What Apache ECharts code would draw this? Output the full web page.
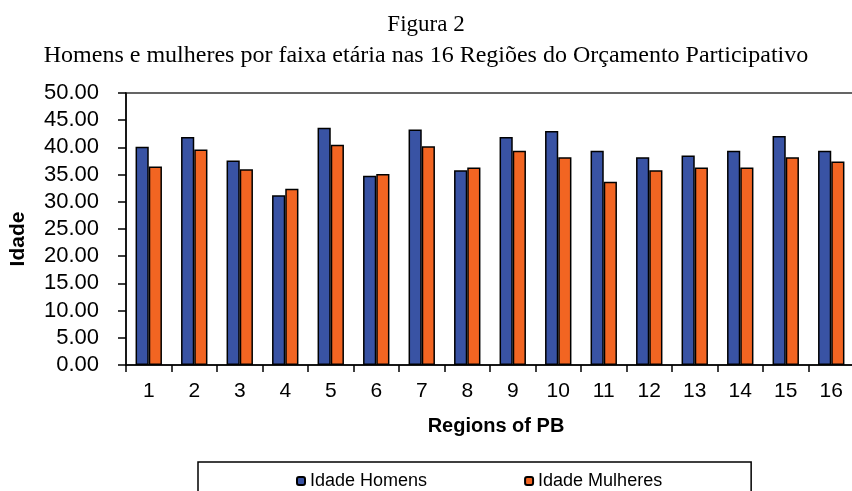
<!DOCTYPE html>
<html>
<head>
    <meta charset="UTF-8">
    <title>Figura 2</title>
    <script src="https://cdn.jsdelivr.net/npm/echarts@6/dist/echarts.min.js"></script>
    <style>
        html, body { margin: 0; padding: 0; background: #fff; }
        #chart { width: 852px; height: 491px; }
    </style>
</head>
<body>
<div id="chart"></div>
<script type="text/javascript">
    var regions = ['1', '2', '3', '4', '5', '6', '7', '8', '9', '10', '11', '12', '13', '14', '15', '16'];
    var idadeHomens = [40.1, 41.9, 37.6, 31.2, 43.6, 34.8, 43.3, 35.8, 41.9, 43.0, 39.4, 38.2, 38.5, 39.4, 42.1, 39.4];
    var idadeMulheres = [36.5, 39.6, 36.0, 32.4, 40.5, 35.1, 40.2, 36.3, 39.4, 38.2, 33.7, 35.8, 36.3, 36.3, 38.2, 37.4];

    var sans = 'Liberation Sans, Arial, sans-serif';
    var serif = 'Liberation Serif, Times New Roman, serif';

    var chart = echarts.init(document.getElementById('chart'));
    chart.setOption({
        animation: false,
        title: [{
            text: 'Figura 2',
            left: 'center',
            top: 8,
            textStyle: {fontFamily: serif, fontSize: 23, fontWeight: 'normal', color: '#000'}
        }, {
            text: 'Homens e mulheres por faixa etária nas 16 Regiões do Orçamento Participativo',
            left: 'center',
            top: 39,
            textStyle: {fontFamily: serif, fontSize: 24, fontWeight: 'normal', color: '#000'}
        }],
        legend: {
            data: ['Idade Homens', 'Idade Mulheres'],
            left: 198,
            top: 462,
            orient: 'horizontal',
            padding: [10, 89, 30, 98],
            itemGap: 97,
            itemWidth: 8,
            itemHeight: 8,
            borderColor: '#000',
            borderWidth: 1.5,
            textStyle: {fontFamily: sans, fontSize: 18, color: '#000'}
        },
        grid: {
            left: 126,
            right: -2,
            top: 93,
            bottom: 126,
            outerBoundsMode: 'none',
            show: true,
            borderColor: '#333',
            borderWidth: 1.5
        },
        xAxis: {
            type: 'category',
            data: regions,
            name: 'Regions of PB',
            nameLocation: 'middle',
            nameGap: 51,
            nameTextStyle: {fontFamily: sans, fontSize: 20, fontWeight: 'bold', color: '#000', padding: [0, 0, 0, 12]},
            axisLine: {lineStyle: {color: '#000', width: 1.5}},
            axisTick: {show: true, length: 7, lineStyle: {color: '#000', width: 1.5}},
            axisLabel: {fontFamily: sans, fontSize: 21, color: '#000', margin: 16}
        },
        yAxis: {
            type: 'value',
            min: 0,
            max: 50,
            interval: 5,
            name: 'Idade',
            nameLocation: 'middle',
            nameGap: 97,
            nameTextStyle: {fontFamily: sans, fontSize: 21, fontWeight: 'bold', color: '#000', padding: [0, 20, 0, 0]},
            axisLine: {show: true, lineStyle: {color: '#000', width: 1.5}},
            axisTick: {show: true, length: 8, inside: false, lineStyle: {color: '#000', width: 1.5}},
            splitLine: {show: false},
            axisLabel: {
                fontFamily: sans, fontSize: 22, color: '#000', margin: 27,
                formatter: function (v) { return v.toFixed(2); }
            }
        },
        series: [{
            name: 'Idade Homens',
            type: 'bar',
            data: idadeHomens,
            barGap: '0%',
            barCategoryGap: '42%',
            itemStyle: {color: '#3953A4', borderColor: '#000', borderWidth: 1.5}
        }, {
            name: 'Idade Mulheres',
            type: 'bar',
            data: idadeMulheres,
            itemStyle: {color: '#F26522', borderColor: '#000', borderWidth: 1.5}
        }]
    });
</script>
</body>
</html>
